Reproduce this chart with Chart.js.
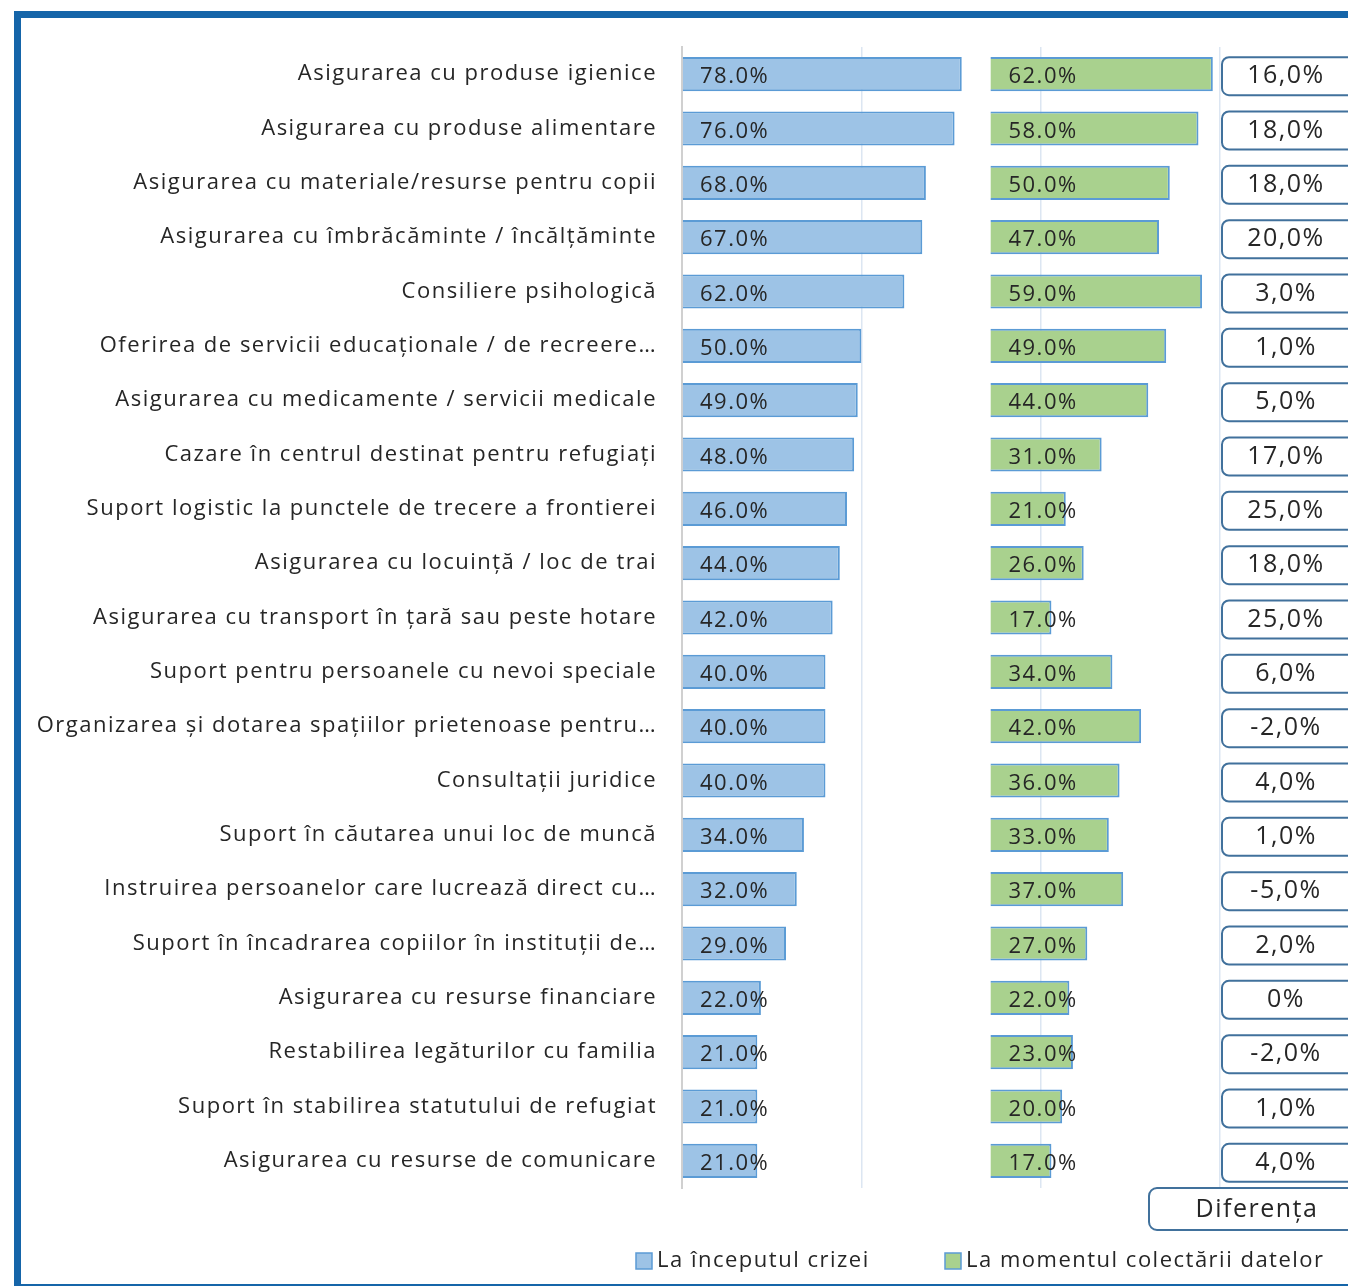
<!DOCTYPE html>
<html>
<head>
<meta charset="utf-8">
<script src="https://cdn.jsdelivr.net/npm/chart.js@4.4.1/dist/chart.umd.min.js"></script>
<style>
  html, body { margin: 0; padding: 0; background: #fff; overflow: hidden; }
  #wrap { position: absolute; left: 0; top: 0; width: 1348px; height: 1286px; }
  #frame { position: absolute; left: 14px; top: 11px; width: 1400px; height: 1266px;
           border: 7px solid #1565a9; pointer-events: none; box-sizing: content-box; }
</style>
</head>
<body>
<div id="wrap">
  <canvas id="chart" width="1348" height="1286"></canvas>
  <div id="frame"></div>
</div>
<script>
// date
const categories = [
    'Asigurarea cu produse igienice',
    'Asigurarea cu produse alimentare',
    'Asigurarea cu materiale/resurse pentru copii',
    'Asigurarea cu îmbrăcăminte / încălțăminte',
    'Consiliere psihologică',
    'Oferirea de servicii educaționale / de recreere…',
    'Asigurarea cu medicamente / servicii medicale',
    'Cazare în centrul destinat pentru refugiați',
    'Suport logistic la punctele de trecere a frontierei',
    'Asigurarea cu locuință / loc de trai',
    'Asigurarea cu transport în țară sau peste hotare',
    'Suport pentru persoanele cu nevoi speciale',
    'Organizarea și dotarea spațiilor prietenoase pentru…',
    'Consultații juridice',
    'Suport în căutarea unui loc de muncă',
    'Instruirea persoanelor care lucrează direct cu…',
    'Suport în încadrarea copiilor în instituții de…',
    'Asigurarea cu resurse financiare',
    'Restabilirea legăturilor cu familia',
    'Suport în stabilirea statutului de refugiat',
    'Asigurarea cu resurse de comunicare'
];
const seriesNames = ['La începutul crizei', 'La momentul colectării datelor'];
const startValues = [78, 76, 68, 67, 62, 50, 49, 48, 46, 44, 42, 40, 40, 40, 34, 32, 29, 22, 21, 21, 21];
const nowValues   = [62, 58, 50, 47, 59, 49, 44, 31, 21, 26, 17, 34, 42, 36, 33, 37, 27, 22, 23, 20, 17];
const xTicks = [0, 50, 100, 150];
const diffTitle = 'Diferența';

// al doilea panou incepe la 86% pe aceeasi axa
const PANEL_OFFSET = 86;
const FONT = '"Open Sans", sans-serif';
const TEXT = '#262626';
const BORDER_BLUE = '#5b9bd5';

const fmtPct = v => v.toFixed(1) + '%';
const fmtDiff = v => (v === 0 ? '0' : v.toFixed(1).replace('.', ',')) + '%';

// textul din original e mai rarefiat
const spacingPlugin = {
    id: 'spacing',
    beforeDraw(chart) { chart.ctx.letterSpacing = '1.5px'; }
};

// etichete in interiorul barelor + casutele cu diferenta + legenda
const overlayPlugin = {
    id: 'overlay',
    afterDatasetsDraw(chart) {
        const ctx = chart.ctx;
        const x = chart.scales.x, y = chart.scales.y;
        ctx.save();
        ctx.letterSpacing = '1.5px';
        ctx.font = '22px ' + FONT;
        ctx.fillStyle = TEXT;
        ctx.textBaseline = 'middle';
        ctx.textAlign = 'left';
        categories.forEach((c, i) => {
            const cy = y.getPixelForValue(i) + 3;
            ctx.fillText(fmtPct(startValues[i]), x.getPixelForValue(0) + 18, cy);
            ctx.fillText(fmtPct(nowValues[i]), x.getPixelForValue(PANEL_OFFSET) + 18, cy);
        });

        // casute diferenta
        const bx = x.getPixelForValue(150) + 2;
        ctx.strokeStyle = '#41719c';
        ctx.lineWidth = 2;
        ctx.font = '25px ' + FONT;
        ctx.textAlign = 'center';
        categories.forEach((c, i) => {
            const cy = y.getPixelForValue(i) + 2;
            ctx.beginPath();
            ctx.roundRect(bx, cy - 19, 150, 38, 7);
            ctx.fillStyle = '#fff';
            ctx.fill();
            ctx.stroke();
            ctx.fillStyle = TEXT;
            ctx.fillText(fmtDiff(startValues[i] - nowValues[i]), bx + 64, cy);
        });
        const dy = chart.chartArea.bottom + 21;
        ctx.beginPath();
        ctx.roundRect(bx - 73, dy - 21, 250, 42, 8);
        ctx.fillStyle = '#fff';
        ctx.fill();
        ctx.stroke();
        ctx.fillStyle = TEXT;
        ctx.fillText(diffTitle, bx + 35, dy + 1);

        // legenda
        ctx.font = '22px ' + FONT;
        ctx.textAlign = 'left';
        const ly = 1261;
        const lx = [636, 945];
        chart.data.datasets.forEach((ds, k) => {
            ctx.fillStyle = ds.backgroundColor;
            ctx.fillRect(lx[k], ly - 8, 16, 16);
            ctx.strokeStyle = BORDER_BLUE;
            ctx.lineWidth = 1.5;
            ctx.strokeRect(lx[k], ly - 8, 16, 16);
            ctx.fillStyle = TEXT;
            ctx.fillText(ds.label, lx[k] + 21, ly);
        });
        ctx.restore();
    }
};

new Chart(document.getElementById('chart'), {
    type: 'bar',
    data: {
        labels: categories,
        datasets: [
            {
                label: seriesNames[0],
                data: startValues,
                backgroundColor: '#9dc3e6',
                borderColor: BORDER_BLUE,
                borderWidth: 2,
                grouped: false
            },
            {
                label: seriesNames[1],
                data: nowValues.map(v => [PANEL_OFFSET, PANEL_OFFSET + v]),
                backgroundColor: '#a9d18e',
                borderColor: BORDER_BLUE,
                borderWidth: 2,
                grouped: false
            }
        ]
    },
    options: {
        indexAxis: 'y',
        responsive: false,
        animation: false,
        barPercentage: 0.63,
        categoryPercentage: 1,
        layout: { padding: { left: 0, right: 128, top: 47, bottom: 98 } },
        plugins: {
            legend: { display: false },
            tooltip: { enabled: false }
        },
        scales: {
            x: {
                min: xTicks[0],
                max: xTicks[xTicks.length - 1],
                afterBuildTicks: s => { s.ticks = xTicks.map(v => ({ value: v })); },
                ticks: { display: false },
                grid: { color: '#dce6f2', lineWidth: 1.5, drawTicks: false },
                border: { display: false }
            },
            y: {
                afterFit: s => { s.width = 682; },
                ticks: { color: TEXT, font: { family: FONT, size: 22 }, padding: 25, autoSkip: false },
                grid: { display: false, drawTicks: false },
                border: { color: '#d0d0d0', width: 2 }
            }
        }
    },
    plugins: [spacingPlugin, overlayPlugin]
});
</script>
</body>
</html>
